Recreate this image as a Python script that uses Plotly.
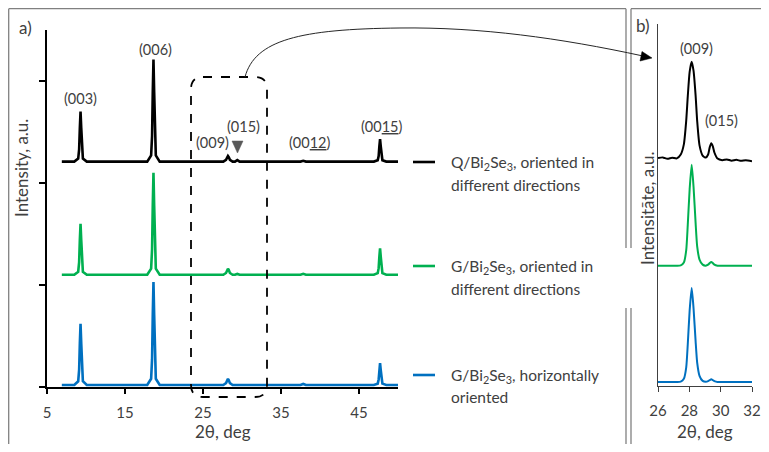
import plotly.graph_objects as go

OFF = 8  # page body margin in the browser
W, H = 769 - 2 * OFF, 452 - 2 * OFF  # figure size that fits the window without scrolling
FONT = "Lato, 'Open Sans', sans-serif"
TXT = "#404040"

# ---------------- data: panel a ----------------
x_a = [6.9,
       8.5, 9.0, 9.12, 9.21, 9.3, 9.39, 9.48, 9.6, 10.1,
       17.85, 18.35, 18.47, 18.56, 18.65, 18.74, 18.83, 18.95, 19.45,
       27.6, 27.95, 28.1, 28.2, 28.3, 28.45, 28.8,
       29.1, 29.4, 29.7,
       37.5, 37.85, 38.2,
       46.9, 47.4, 47.52, 47.61, 47.7, 47.79, 47.88, 48.0, 48.5,
       50.0]
y_black_a = [2.21,
             2.21, 2.24, 2.33, 2.54, 2.70, 2.54, 2.33, 2.24, 2.21,
             2.21, 2.27, 2.46, 2.89, 3.21, 2.89, 2.46, 2.27, 2.21,
             2.21, 2.227, 2.254, 2.265, 2.254, 2.227, 2.21,
             2.21, 2.225, 2.21,
             2.21, 2.218, 2.21,
             2.21, 2.223, 2.265, 2.36, 2.43, 2.36, 2.265, 2.223, 2.21,
             2.21]
y_green_a = [1.10,
             1.10, 1.13, 1.225, 1.44, 1.60, 1.44, 1.225, 1.13, 1.10,
             1.10, 1.16, 1.35, 1.78, 2.10, 1.78, 1.35, 1.16, 1.10,
             1.10, 1.118, 1.148, 1.16, 1.148, 1.118, 1.10,
             1.10, 1.108, 1.10,
             1.10, 1.11, 1.10,
             1.10, 1.116, 1.165, 1.277, 1.36, 1.277, 1.165, 1.116, 1.10,
             1.10]
y_blue_a = [0.02,
            0.02, 0.056, 0.17, 0.428, 0.62, 0.428, 0.17, 0.056, 0.02,
            0.02, 0.081, 0.273, 0.707, 1.03, 0.707, 0.273, 0.081, 0.02,
            0.02, 0.038, 0.068, 0.08, 0.068, 0.038, 0.02,
            0.02, 0.026, 0.02,
            0.02, 0.03, 0.02,
            0.02, 0.033, 0.074, 0.166, 0.235, 0.166, 0.074, 0.033, 0.02,
            0.02]

# ---------------- data: panel b ----------------
x_b = [26.0, 26.3, 26.6, 26.9, 27.2, 27.45, 27.65, 27.8, 27.9, 28.02,
       28.15, 28.27, 28.4, 28.5, 28.65, 28.85, 29.05, 29.2, 29.3, 29.4,
       29.5, 29.6, 29.8, 30.1, 30.4, 30.7, 31.0, 31.3, 31.6, 32.0]
y_black_b = [2.235, 2.242, 2.228, 2.238, 2.232, 2.27, 2.37, 2.60, 2.84, 3.08,
             3.18, 3.09, 2.85, 2.60, 2.36, 2.26, 2.24, 2.27, 2.34, 2.38,
             2.35, 2.29, 2.23, 2.215, 2.222, 2.21, 2.218, 2.208, 2.215, 2.205]
y_green_b = [1.18, 1.18, 1.18, 1.18, 1.18, 1.183, 1.21, 1.33, 1.58, 1.93,
             2.17, 1.95, 1.60, 1.37, 1.24, 1.19, 1.18, 1.19, 1.205, 1.215,
             1.205, 1.19, 1.18, 1.18, 1.18, 1.18, 1.18, 1.18, 1.18, 1.18]
y_blue_b = [0.04, 0.04, 0.04, 0.04, 0.04, 0.043, 0.07, 0.18, 0.41, 0.74,
            0.96, 0.76, 0.44, 0.23, 0.10, 0.05, 0.042, 0.048, 0.058, 0.065,
            0.058, 0.048, 0.04, 0.04, 0.04, 0.04, 0.04, 0.04, 0.04, 0.04]

ticks_a_x = [5, 15, 25, 35, 45]
ticks_a_y = [0, 1, 2, 3]
ticks_b_x = [26, 28, 30, 32]

series_names = ["Q/Bi2Se3, oriented in different directions",
                "G/Bi2Se3, oriented in different directions",
                "G/Bi2Se3, horizontally oriented"]
series_colors = ["#000000", "#00b050", "#0070c0"]
legend_text = [["Q/Bi<sub>2</sub>Se<sub>3</sub>, oriented in", "different directions"],
               ["G/Bi<sub>2</sub>Se<sub>3</sub>, oriented in", "different directions"],
               ["G/Bi<sub>2</sub>Se<sub>3</sub>, horizontally", "oriented"]]
peak_labels_a = ["(003)", "(006)", "(009)", "(015)", "(00<u>12</u>)", "(00<u>15</u>)"]
peak_labels_b = ["(009)", "(015)"]


def fx(px):
    return (px - OFF) / W


def fy(py):
    return 1 - (py - OFF) / H


def P(px, py):
    return f"{fx(px):.5f},{fy(py):.5f}"


fig = go.Figure()
for ys, c, n in zip([y_black_a, y_green_a, y_blue_a], series_colors, series_names):
    fig.add_trace(go.Scatter(x=x_a, y=ys, mode="lines", name=n,
                             line=dict(color=c, width=2.6), xaxis="x", yaxis="y",
                             showlegend=False))
for ys, c, n in zip([y_black_b, y_green_b, y_blue_b], series_colors, series_names):
    fig.add_trace(go.Scatter(x=x_b, y=ys, mode="lines", name=n,
                             line=dict(color=c, width=2, shape="spline", smoothing=0.6),
                             xaxis="x2", yaxis="y2", showlegend=False))

tickfont = dict(family=FONT, size=15, color=TXT)
fig.update_layout(
    width=W, height=H, autosize=False,
    margin=dict(l=0, r=0, t=0, b=0),
    paper_bgcolor="white", plot_bgcolor="white",
    xaxis=dict(domain=[fx(47), fx(398)], range=[5, 50], tickvals=ticks_a_x,
               ticks="outside", ticklen=5, tickwidth=1.5, tickcolor="black",
               showline=True, linecolor="black", linewidth=2, showgrid=False,
               zeroline=False, tickfont=tickfont, ticklabelstandoff=6, anchor="y",
               automargin=False),
    yaxis=dict(domain=[fy(387), fy(30)], range=[0, 3.5], tickvals=ticks_a_y,
               ticks="outside", ticklen=6, tickwidth=1.5, tickcolor="black",
               showline=True, linecolor="black", linewidth=2, showgrid=False,
               zeroline=False, showticklabels=False, anchor="x", automargin=False),
    xaxis2=dict(domain=[fx(658), fx(752)], range=[26, 32], tickvals=ticks_b_x,
                ticks="outside", ticklen=5, tickwidth=1, tickcolor="#404040",
                showline=True, linecolor="#404040", linewidth=1, showgrid=False,
                zeroline=False, tickfont=tickfont, ticklabelstandoff=6, anchor="y2",
                automargin=False),
    yaxis2=dict(domain=[fy(386), fy(24)], range=[0, 3.55], showticklabels=False,
                ticks="", showline=True, linecolor="#404040", linewidth=1,
                showgrid=False, zeroline=False, anchor="x2", automargin=False),
)

anns = []


def ann(px, py, text, size=15, xanchor="center", angle=0, color=TXT):
    anns.append(dict(x=fx(px), y=fy(py), xref="paper", yref="paper", text=text,
                     showarrow=False, xanchor=xanchor, yanchor="middle",
                     textangle=angle, font=dict(family=FONT, size=size, color=color)))


# panel labels and titles
ann(25, 27, "a)", 17)
ann(643, 26, "b)", 17)
ann(21, 168, "Intensity, a.u.", 17, angle=-90)
ann(647, 208, "Intensitāte, a.u.", 17, angle=-90)
ann(223, 431, "2θ, deg", 17)
ann(705, 431, "2θ, deg", 17)

# peak labels
pos_a = [(80, 98), (155, 50), (212, 142), (243, 127), (310, 142), (382, 127)]
for (px, py), t in zip(pos_a, peak_labels_a):
    ann(px, py, t, 14.5)
pos_b = [(696, 48), (721, 120)]
for (px, py), t in zip(pos_b, peak_labels_b):
    ann(px, py, t, 14.5)

# legend text
leg_y = [(163, 185), (267, 289), (376, 397)]
for (y1, y2), (l1, l2) in zip(leg_y, legend_text):
    ann(449, y1, l1, 15.5, xanchor="left")
    ann(449, y2, l2, 15.5, xanchor="left")

fig.update_layout(annotations=anns)

shapes = []
FR = "#808080"
TOP, LEFT = 8.7, 8.7  # frame edges (as close to the window edge as the page allows)
for (x0, y0, x1, y1) in [(LEFT, TOP, 626, TOP), (LEFT, TOP, LEFT, 470),
                         (626, TOP, 626, 248), (626, 308, 626, 470),
                         (631, TOP, 790, TOP), (631, TOP, 631, 248), (631, 308, 631, 470)]:
    shapes.append(dict(type="line", xref="paper", yref="paper", x0=fx(x0), y0=fy(y0),
                       x1=fx(x1), y1=fy(y1), line=dict(color=FR, width=1.3)))

# legend line samples
for (y1, _), c in zip(leg_y, series_colors):
    shapes.append(dict(type="line", xref="paper", yref="paper", x0=fx(413), y0=fy(y1 - 1),
                       x1=fx(435), y1=fy(y1 - 1), line=dict(color=c, width=2.6)))

# dashed rounded rectangle
x0, x1, y0, y1, r = 191, 267, 77, 397, 12
rr = (f"M {P(x0 + r, y0)} L {P(x1 - r, y0)} Q {P(x1, y0)} {P(x1, y0 + r)} "
      f"L {P(x1, y1 - r)} Q {P(x1, y1)} {P(x1 - r, y1)} L {P(x0 + r, y1)} "
      f"Q {P(x0, y1)} {P(x0, y1 - r)} L {P(x0, y0 + r)} Q {P(x0, y0)} {P(x0 + r, y0)} Z")
shapes.append(dict(type="path", xref="paper", yref="paper", path=rr,
                   line=dict(color="black", width=1.8, dash="dash")))

# curved arrow
arc = (f"M {P(245, 77)} C {P(255, 40)} {P(300, 29)} {P(400, 28)} "
       f"C {P(480, 27)} {P(560, 38)} {P(643, 56)}")
shapes.append(dict(type="path", xref="paper", yref="paper", path=arc,
                   line=dict(color="#262626", width=1)))
head = f"M {P(652, 58)} L {P(642, 51.5)} L {P(640, 61)} Z"
shapes.append(dict(type="path", xref="paper", yref="paper", path=head,
                   fillcolor="black", line=dict(color="black", width=0.5)))

# triangle marker for (015)
tri = f"M {P(232, 141)} L {P(243, 141)} L {P(237.5, 153)} Z"
shapes.append(dict(type="path", xref="paper", yref="paper", path=tri,
                   fillcolor="#595959", line=dict(color="#595959", width=0.5)))

fig.update_layout(shapes=shapes)
fig.write_html("out.html")
